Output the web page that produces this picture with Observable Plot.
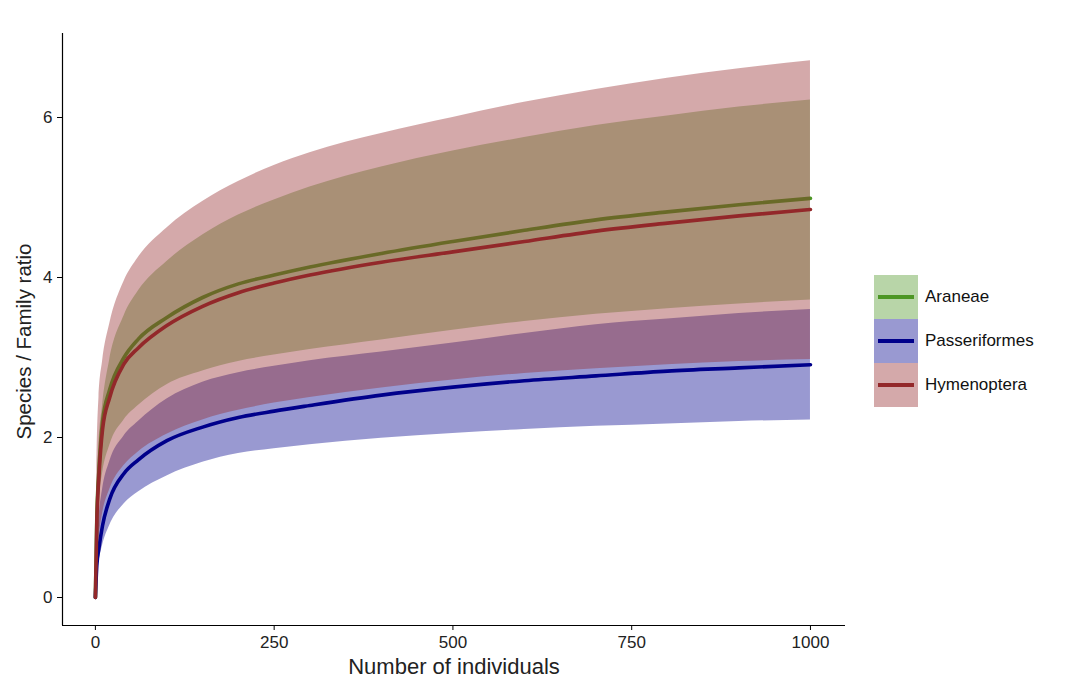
<!DOCTYPE html>
<html>
<head>
<meta charset="utf-8">
<script src="https://cdn.jsdelivr.net/npm/d3@7"></script>
<script src="https://cdn.jsdelivr.net/npm/@observablehq/plot@0.6"></script>
<style>
  body { margin: 0; background: #fff; }
  #wrap { position: relative; width: 1088px; height: 682px; font-family: "Liberation Sans", Arial, sans-serif; }
  #legend { position: absolute; left: 874px; top: 275px; }
  .row { display: flex; align-items: center; height: 44px; }
  .key { position: relative; width: 44px; height: 44px; }
  .key .fill { position: absolute; inset: 0; }
  .key .ln { position: absolute; left: 4px; right: 4px; top: 20px; height: 4px; }
  .lab { margin-left: 7px; font-size: 17px; color: #111; }
</style>
</head>
<body>
<div id="wrap"><div id="legend"></div></div>
<script>
// ---- data ----
const groups = ["Araneae", "Passeriformes", "Hymenoptera"];
const colors = ["#4d9625", "#00008b", "#93282a"];
const individuals = [0, 2, 5, 10, 20, 40, 60, 100, 150, 200, 250, 300, 400, 500, 600, 700, 800, 900, 1000];

const araneaeMean = [0, 1.0, 1.6, 2.2, 2.6, 3.0, 3.23, 3.5, 3.75, 3.92, 4.03, 4.13, 4.3, 4.45, 4.59, 4.72, 4.82, 4.91, 4.99];
const araneaeLow  = [0, 0.8, 1.2, 1.55, 1.9, 2.22, 2.4, 2.66, 2.83, 2.95, 3.03, 3.1, 3.22, 3.34, 3.45, 3.54, 3.61, 3.67, 3.72];
const araneaeHigh = [0, 1.2, 1.9, 2.4, 2.97, 3.52, 3.83, 4.2, 4.53, 4.78, 4.97, 5.13, 5.38, 5.58, 5.75, 5.9, 6.02, 6.13, 6.22];

const passerMean = [0, 0.4, 0.62, 0.9, 1.23, 1.55, 1.72, 1.96, 2.13, 2.25, 2.33, 2.4, 2.53, 2.63, 2.71, 2.77, 2.83, 2.87, 2.91];
const passerLow  = [0, 0.3, 0.45, 0.65, 0.9, 1.17, 1.32, 1.52, 1.69, 1.8, 1.86, 1.91, 1.99, 2.05, 2.1, 2.14, 2.17, 2.2, 2.22];
const passerHigh = [0, 0.6, 1.0, 1.35, 1.7, 2.02, 2.2, 2.48, 2.69, 2.81, 2.89, 2.96, 3.07, 3.18, 3.3, 3.41, 3.48, 3.55, 3.6];

const hymenMean = [0, 0.95, 1.52, 2.1, 2.5, 2.92, 3.12, 3.4, 3.64, 3.81, 3.93, 4.03, 4.19, 4.32, 4.45, 4.58, 4.68, 4.77, 4.85];
const hymenLow  = [0, 0.5, 0.75, 1.05, 1.35, 1.65, 1.82, 2.04, 2.22, 2.34, 2.43, 2.5, 2.62, 2.72, 2.8, 2.86, 2.91, 2.95, 2.975];
const hymenHigh = [0, 1.6, 2.5, 2.95, 3.42, 3.95, 4.25, 4.62, 4.95, 5.2, 5.4, 5.56, 5.8, 6.0, 6.19, 6.35, 6.49, 6.61, 6.71];

const xTicks = [0, 250, 500, 750, 1000];
const yTicks = [0, 2, 4, 6];
const xDomain = [-46, 1049];
const yDomain = [-0.35, 7.05];

// ---- build tables ----
const series = [
  [araneaeMean, araneaeLow, araneaeHigh],
  [passerMean, passerLow, passerHigh],
  [hymenMean, hymenLow, hymenHigh]
];
const tables = groups.map((g, gi) => individuals.map((x, i) => ({
  group: g, x, mean: series[gi][0][i], low: series[gi][1][i], high: series[gi][2][i]
})));

const marks = [];
tables.forEach((rows, gi) => {
  marks.push(Plot.areaY(rows, {x: "x", y1: "low", y2: "high", fill: colors[gi], fillOpacity: 0.4, curve: "monotone-x"}));
  marks.push(Plot.line(rows, {x: "x", y: "mean", stroke: colors[gi], strokeWidth: 3.6, curve: "monotone-x"}));
});

const chart = Plot.plot({
  width: 1088,
  height: 682,
  marginLeft: 62,
  marginRight: 243,
  marginTop: 33,
  marginBottom: 57,
  style: {fontFamily: "'Liberation Sans', Arial, sans-serif", fontSize: "17px", color: "#222", background: "#fff"},
  x: {domain: xDomain},
  y: {domain: yDomain},
  marks: [
    ...marks,
    Plot.ruleX([xDomain[0]], {stroke: "#000", strokeWidth: 1.2}),
    Plot.ruleY([yDomain[0]], {stroke: "#000", strokeWidth: 1.2}),
    Plot.axisX({ticks: xTicks, tickFormat: d => String(d), tickSize: 5, tickPadding: 5, label: "Number of individuals", labelArrow: "none", labelAnchor: "center", labelOffset: 48, fontSize: 17, stroke: "#000"}),
    Plot.axisY({ticks: yTicks, tickFormat: d => String(d), tickSize: 5, tickPadding: 5, label: "Species / Family ratio", labelArrow: "none", labelAnchor: "center", labelOffset: 46, fontSize: 17, stroke: "#000"})
  ]
});
// axis title sizes / placement, and make sure no arrows remain
chart.querySelectorAll("[aria-label='x-axis label'] text").forEach(t => {
  t.setAttribute("font-size", "22");
  t.textContent = t.textContent.replace(/\s*[→↑←↓]\s*/g, "");
});
chart.querySelectorAll("[aria-label='y-axis label'] text").forEach(t => {
  t.setAttribute("font-size", "20.5");
  t.setAttribute("dx", "-12");
  t.textContent = t.textContent.replace(/\s*[→↑←↓]\s*/g, "");
});
document.getElementById("wrap").prepend(chart);

// ---- legend ----
const legend = document.getElementById("legend");
groups.forEach((g, gi) => {
  const row = document.createElement("div");
  row.className = "row";
  row.innerHTML = `<div class="key"><div class="fill" style="background:${colors[gi]};opacity:0.4"></div><div class="ln" style="background:${colors[gi]}"></div></div><div class="lab">${g}</div>`;
  legend.appendChild(row);
});
</script>
</body>
</html>
